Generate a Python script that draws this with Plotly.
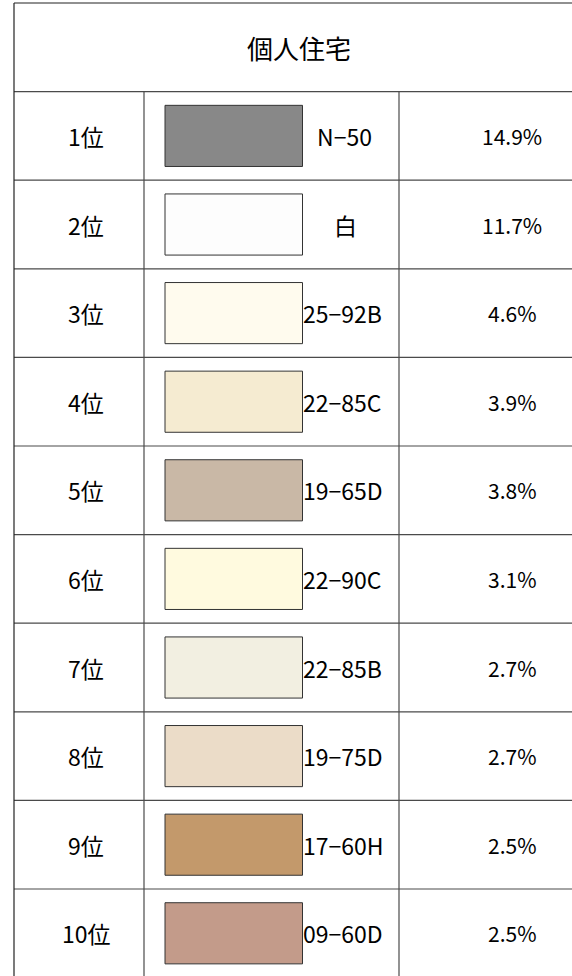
import plotly.graph_objects as go

# ---- data ----
title = "個人住宅"
ranks = ["1位", "2位", "3位", "4位", "5位", "6位", "7位", "8位", "9位", "10位"]
color_names = ["N−50", "白", "25−92B", "22−85C", "19−65D", "22−90C", "22−85B", "19−75D", "17−60H", "09−60D"]
shares = [14.9, 11.7, 4.6, 3.9, 3.8, 3.1, 2.7, 2.7, 2.5, 2.5]
swatch_colors = ["#888888", "#fdfdfd", "#fffbee", "#f5ebd1", "#c9b8a6",
                 "#fffadf", "#f2efe1", "#ebdcc8", "#c3996b", "#c39b8a"]

# ---- layout constants (pixel-like x axis, row-index y axis) ----
W, H = 572, 976
X_LEFT, X_C1, X_C2, X_RIGHT = 14, 144, 399, 640
RANK_X, PCT_X, TITLE_X = 86, 512, 299
SW_X0, SW_X1, SW_HALF = 165, 302.5, 0.345
FONT = "Noto Sans CJK JP, Noto Sans, sans-serif"
LINE = "#4a4a4a"
TCOL = "#000000"

rows = list(range(1, len(ranks) + 1))

fig = go.Figure()
# invisible trace to anchor axes
fig.add_trace(go.Scatter(x=[RANK_X] * len(rows), y=rows, mode="markers",
                         marker=dict(opacity=0), hoverinfo="skip", showlegend=False))

annotations = []


def label(x, y, text, anchor="center", size=21, shift=0):
    annotations.append(dict(x=x, y=y, xref="x", yref="y", text=text, showarrow=False,
                            xanchor=anchor, yanchor="middle", xshift=shift,
                            font=dict(family=FONT, size=size, color=TCOL)))


label(TITLE_X, 0, title, size=26)
for r, rk in zip(rows, ranks):
    label(RANK_X, r, rk, size=23)
for r, v in zip(rows, shares):
    label(PCT_X, r, f"{v:.1f}%", size=21)
for r, name in zip(rows, color_names):
    if name == "N−50":
        label(317, r, name, anchor="left", size=23, shift=-2)
    elif name == "白":
        label(345, r, name, size=23)
    else:
        label(303, r, name, anchor="left", size=23, shift=-2)

shapes = []
# swatches
for r, c in zip(rows, swatch_colors):
    shapes.append(dict(type="rect", xref="x", yref="y", x0=SW_X0, x1=SW_X1,
                       y0=r - SW_HALF, y1=r + SW_HALF, fillcolor=c,
                       line=dict(color="#333333", width=1), layer="above"))

# grid lines
top = -0.5
bottom = len(rows) + 0.5
shapes.append(dict(type="line", xref="x", yref="y", x0=X_LEFT, x1=X_RIGHT, y0=top, y1=top,
                   line=dict(color="#222", width=1.2)))
for k in range(len(rows) + 1):
    yy = k + 0.5
    shapes.append(dict(type="line", xref="x", yref="y", x0=X_LEFT, x1=X_RIGHT, y0=yy, y1=yy,
                       line=dict(color=LINE, width=1.2)))
shapes.append(dict(type="line", xref="x", yref="y", x0=X_LEFT, x1=X_LEFT, y0=top, y1=bottom,
                   line=dict(color="#222", width=1.2)))
for xx in (X_C1, X_C2):
    shapes.append(dict(type="line", xref="x", yref="y", x0=xx, x1=xx, y0=0.5, y1=bottom,
                       line=dict(color=LINE, width=1.2)))

fig.update_layout(
    width=W, height=H, margin=dict(l=0, r=0, t=0, b=0),
    paper_bgcolor="white", plot_bgcolor="white",
    xaxis=dict(range=[0, W], visible=False, fixedrange=True),
    yaxis=dict(range=[10.482, -0.534], visible=False, fixedrange=True),
    shapes=shapes, annotations=annotations, showlegend=False,
)

fig.write_html("out.html", config={"displayModeBar": False},
               post_script="document.body.style.margin='0';document.body.style.overflow='hidden';")
